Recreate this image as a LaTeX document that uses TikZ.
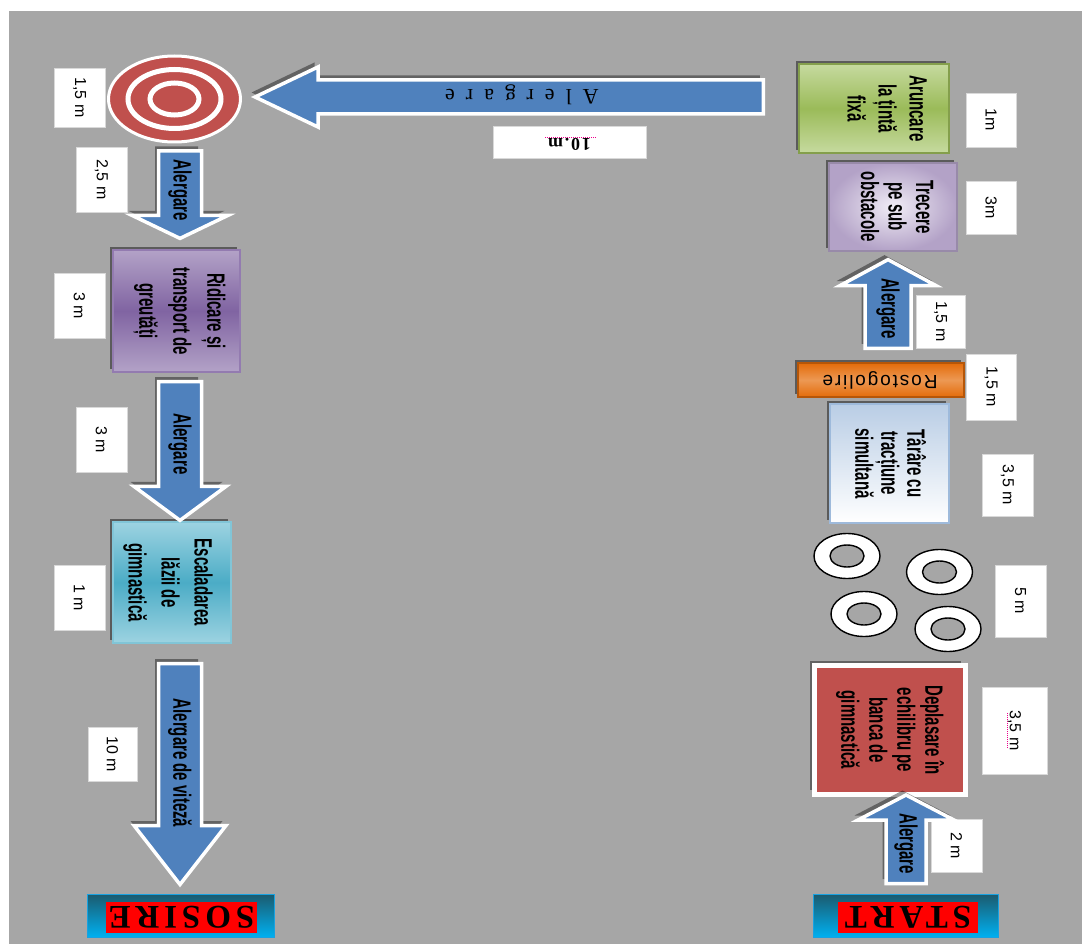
\documentclass[tikz,border=0pt]{standalone}
\usepackage{fontspec}
\setmainfont{Liberation Sans}
\newfontfamily\narrowfont{Liberation Sans}[FakeStretch=0.6]
\newfontfamily\romanfont{Liberation Serif}
\usetikzlibrary{calc, shadows, positioning}

\definecolor{field}{HTML}{A6A6A6}
\definecolor{runblue}{HTML}{4F81BD}
\definecolor{targetred}{HTML}{C0504D}
\definecolor{lilacdark}{HTML}{8064A2}
\definecolor{lilaclight}{HTML}{B3A2C7}
\definecolor{lilacpale}{HTML}{F1EDF6}
\definecolor{aquadark}{HTML}{4BACC6}
\definecolor{aqualight}{HTML}{9DD3E1}
\definecolor{olivedark}{HTML}{9BBB59}
\definecolor{olivelight}{HTML}{C6DA9F}
\definecolor{skylight}{HTML}{B9CDE5}
\definecolor{tangerine}{HTML}{E46C0A}
\definecolor{tealdark}{HTML}{1B5A6E}
\definecolor{cyanbright}{HTML}{00B0F0}

% block arrow: [style] {tail} {tip} {shaft half width} {head half width} {head length}
\newcommand{\blockarrow}[6][]{%
  \coordinate (hb) at ($(#3)!#6pt!(#2)$);
  \draw[blkarrow, #1] ($(#2)!#4pt!90:(#3)$) -- ($(hb)!#4pt!90:(#3)$)
    -- ($(hb)!#5pt!90:(#3)$) -- (#3) -- ($(hb)!#5pt!-90:(#3)$)
    -- ($(hb)!#4pt!-90:(#3)$) -- ($(#2)!#4pt!-90:(#3)$) -- cycle;}

\begin{document}
\begin{tikzpicture}[x=1pt, y=-1pt, line join=miter,
    blkarrow/.style={fill=runblue, draw=white, line width=3.5pt,
      drop shadow={shadow xshift=-3.5pt, shadow yshift=4.5pt, opacity=.4, fill=black}},
    boxshadow/.style={drop shadow={shadow xshift=-3pt, shadow yshift=3pt, opacity=.45, fill=black}},
    station/.style={boxshadow, inner sep=0, line width=1.2pt},
    boxtext/.style={rotate=-90, align=center, inner sep=0,
      font=\narrowfont\bfseries\fontsize{25}{#1}\selectfont},
    runtext/.style={rotate=-90, inner sep=0, font=\narrowfont\bfseries\fontsize{25}{30}\selectfont},
    distbox/.style={draw=black!15, fill=white, line width=.8pt, inner sep=0},
    dist/.style={distbox, rotate=-90, font=\fontsize{16}{19}\selectfont},
    hoop/.style={draw=black, fill=white, line width=1.4pt, even odd rule},
    gate/.style={draw=cyanbright!70!runblue, line width=1pt, top color=tealdark,
      bottom color=cyanbright, inner sep=0},
    gatetext/.style={fill=red, rotate=180, inner sep=0,
      font=\romanfont\bfseries\fontsize{33}{36}\selectfont\addfontfeature{LetterSpace=15}},
    spell/.style={magenta, densely dotted, line width=1pt}]

  \useasboundingbox (0,0) rectangle (1082,944);
  \fill[white] (0,0) rectangle (1082,944);
  \fill[field] (9,11) rectangle (1082,944);

  % distances, finish side
  \node[dist, minimum width=59, minimum height=51] (d1) at (79.5,97.5) {1,5 m};
  \node[dist, minimum width=65, minimum height=51] (d2) at (101.5,179.5) {2,5 m};
  \node[dist, minimum width=65, minimum height=51] (d3) at (79.5,305.5) {3 m};
  \node[dist, minimum width=65, minimum height=51] (d4) at (101.5,439.5) {3 m};
  \node[dist, minimum width=65, minimum height=51] (d5) at (79.5,597.5) {1 m};
  \node[dist, minimum width=54, minimum height=49] (d6) at (112.5,754) {10 m};

  % distances, start side
  \node[dist, minimum width=54, minimum height=50] (d7) at (991,120) {1m};
  \node[dist, minimum width=53, minimum height=50] (d8) at (991,207.5) {3m};
  \node[dist, minimum width=53, minimum height=49] (d9) at (940.5,321.5) {1,5 m};
  \node[dist, minimum width=66, minimum height=50] (d10) at (991,387) {1,5 m};
  \node[dist, minimum width=62, minimum height=51] (d11) at (1007.5,485) {3,5 m};
  \node[dist, minimum width=72, minimum height=51] (d12) at (1020.5,601) {5 m};
  \node[dist, minimum width=87, minimum height=65] (d13) at (1014.5,730.5) {3,5 m};
  \node[dist, minimum width=53, minimum height=51] (d14) at (956.5,845.5) {2 m};
  \node[distbox, rotate=180, minimum width=153, minimum height=32, text height=6pt, text depth=0pt,
    font=\romanfont\bfseries\fontsize{18}{21}\selectfont\addfontfeature{LetterSpace=10}] (d15) at (569.5,142) {10.m};
  \draw[spell] (545,138) -- (597,138);
  \draw[spell] (1007,713) -- (1007,749);

  % target
  \coordinate (target) at (174.5,99);
  \draw[white, line width=3pt, fill=targetred] (target) ellipse [x radius=66, y radius=43];
  \draw[white, line width=5pt] (target) ellipse [x radius=46.5, y radius=29.5]
    (target) ellipse [x radius=24.5, y radius=16];

  % stations, finish side
  \node[station, draw=lilacdark!85!white, top color=lilaclight, bottom color=lilaclight,
    middle color=lilacdark, minimum width=127, minimum height=122] (ridicare) at (176.5,311) {};
  \node[station, draw=aquadark!70!white, top color=aqualight, bottom color=aqualight,
    middle color=aquadark, minimum width=118, minimum height=121] (escalada) at (172,582.5) {};
  \node[gate, minimum width=187, minimum height=43] (sosire) at (180.5,915.5) {};

  % stations, start side
  \node[station, draw=olivedark!85!black, top color=olivelight, bottom color=olivelight,
    middle color=olivedark, minimum width=150, minimum height=89] (aruncare) at (874,108.5) {};
  \node[station, draw=lilaclight!85!black, inner color=lilacpale, outer color=lilaclight,
    minimum width=128, minimum height=88] (trecere) at (893,207) {};
  \node[station, draw=tangerine!80!black, top color=tangerine, bottom color=tangerine,
    middle color=tangerine!70!white, minimum width=166, minimum height=34] (rostogolire) at (881,380) {};
  \node[station, draw=skylight!75!runblue, top color=skylight, bottom color=white,
    minimum width=119, minimum height=119] (tarare) at (889.5,463.5) {};
  \node[station, draw=white, line width=5pt, fill=targetred, minimum width=151, minimum height=129,
    drop shadow={shadow xshift=-5pt, shadow yshift=5pt, opacity=.4, fill=black}] (deplasare) at (890,730) {};
  \node[gate, minimum width=185, minimum height=43] (start) at (905.5,915.5) {};

  % hoops
  \foreach \cx/\cy in {847/556, 939.5/572, 864/614, 948/629}
    \draw[hoop] (\cx,\cy) ellipse [x radius=33, y radius=22.5] (\cx,\cy) ellipse [x radius=17, y radius=11];

  % running arrows
  \coordinate (run1s) at ($(target)+(5.5,52)$);
  \coordinate (run1e) at ($(ridicare.north)+(3.5,-11)$);
  \coordinate (run2s) at ($(ridicare.south)+(3.5,9)$);
  \coordinate (run2e) at ($(escalada.north)+(8,-1)$);
  \coordinate (run3s) at ($(escalada.south)+(8,20)$);
  \coordinate (run3e) at ($(sosire.north)+(-0.5,-9)$);
  \coordinate (run4s) at ($(start.north)+(0.5,-10)$);
  \coordinate (run4e) at ($(deplasare.south)+(16,-2)$);
  \coordinate (run5s) at ($(rostogolire.north)+(7,-14)$);
  \coordinate (run5e) at ($(trecere.south)+(-5,8)$);
  \coordinate (run6s) at ($(aruncare.west)+(-35,-11.5)$);
  \coordinate (run6e) at ($(target)+(80.5,-2)$);
  \blockarrow{run1s}{run1e}{21.5}{48}{23}
  \blockarrow{run2s}{run2e}{21.5}{46}{34}
  \blockarrow{run3s}{run3e}{21.5}{46}{59}
  \blockarrow{run4s}{run4e}{20}{48}{25}
  \blockarrow{run5s}{run5e}{23}{48}{26}
  \blockarrow{run6s}{run6e}{17}{30}{63}

  % texts
  \node[boxtext=34] (ridicaret) at ([xshift=3pt]ridicare.center) {Ridicare și\\transport de\\greutăți};
  \node[boxtext=33] (escaladat) at ([xshift=-4pt]escalada.center) {Escaladarea\\lăzii de\\gimnastică};
  \node[boxtext=31] (aruncaret) at ([xshift=13pt]aruncare.center) {Aruncare\\la țintă\\fixă};
  \node[boxtext=27.5] (trecerer) at ([xshift=4pt]trecere.center) {Trecere\\pe sub\\obstacole};
  \node[boxtext=26] (tararet) at ([xshift=1pt]tarare.center) {Târâre cu\\tracțiune\\simultană};
  \node[boxtext=28] (deplasaret) at (deplasare.center) {Deplasare în\\echilibru pe\\banca de\\gimnastică};
  \node[rotate=180, inner sep=0, font=\fontsize{19}{21}\selectfont\addfontfeature{LetterSpace=10}]
    (rostogoliret) at ([xshift=-1pt]rostogolire.center) {Rostogolire};
  \node[gatetext, minimum width=151, minimum height=31] (sosiret) at ([xshift=1pt, yshift=-2pt]sosire.center) {SOSIRE};
  \node[gatetext, minimum width=140, minimum height=31] (startt) at ([xshift=2.5pt, yshift=-2pt]start.center) {START};

  \node[runtext] (run1t) at ($(run1s)!.45!(run1e)$) {Alergare};
  \node[runtext] (run2t) at ($(run2s)!.45!(run2e)$) {Alergare};
  \node[runtext] (run3t) at ($(run3s)!.45!(run3e)$) {Alergare de viteză};
  \node[runtext] (run4t) at ($(run4s)!.45!(run4e)$) {Alergare};
  \node[runtext] (run5t) at ($(run5s)!.45!(run5e)$) {Alergare};
  \node[rotate=180, inner sep=0, font=\romanfont\fontsize{22}{24}\selectfont\addfontfeature{LetterSpace=50}]
    (run6t) at ([yshift=2pt]$(run6s)!.475!(run6e)$) {Alergare};
\end{tikzpicture}
\end{document}
